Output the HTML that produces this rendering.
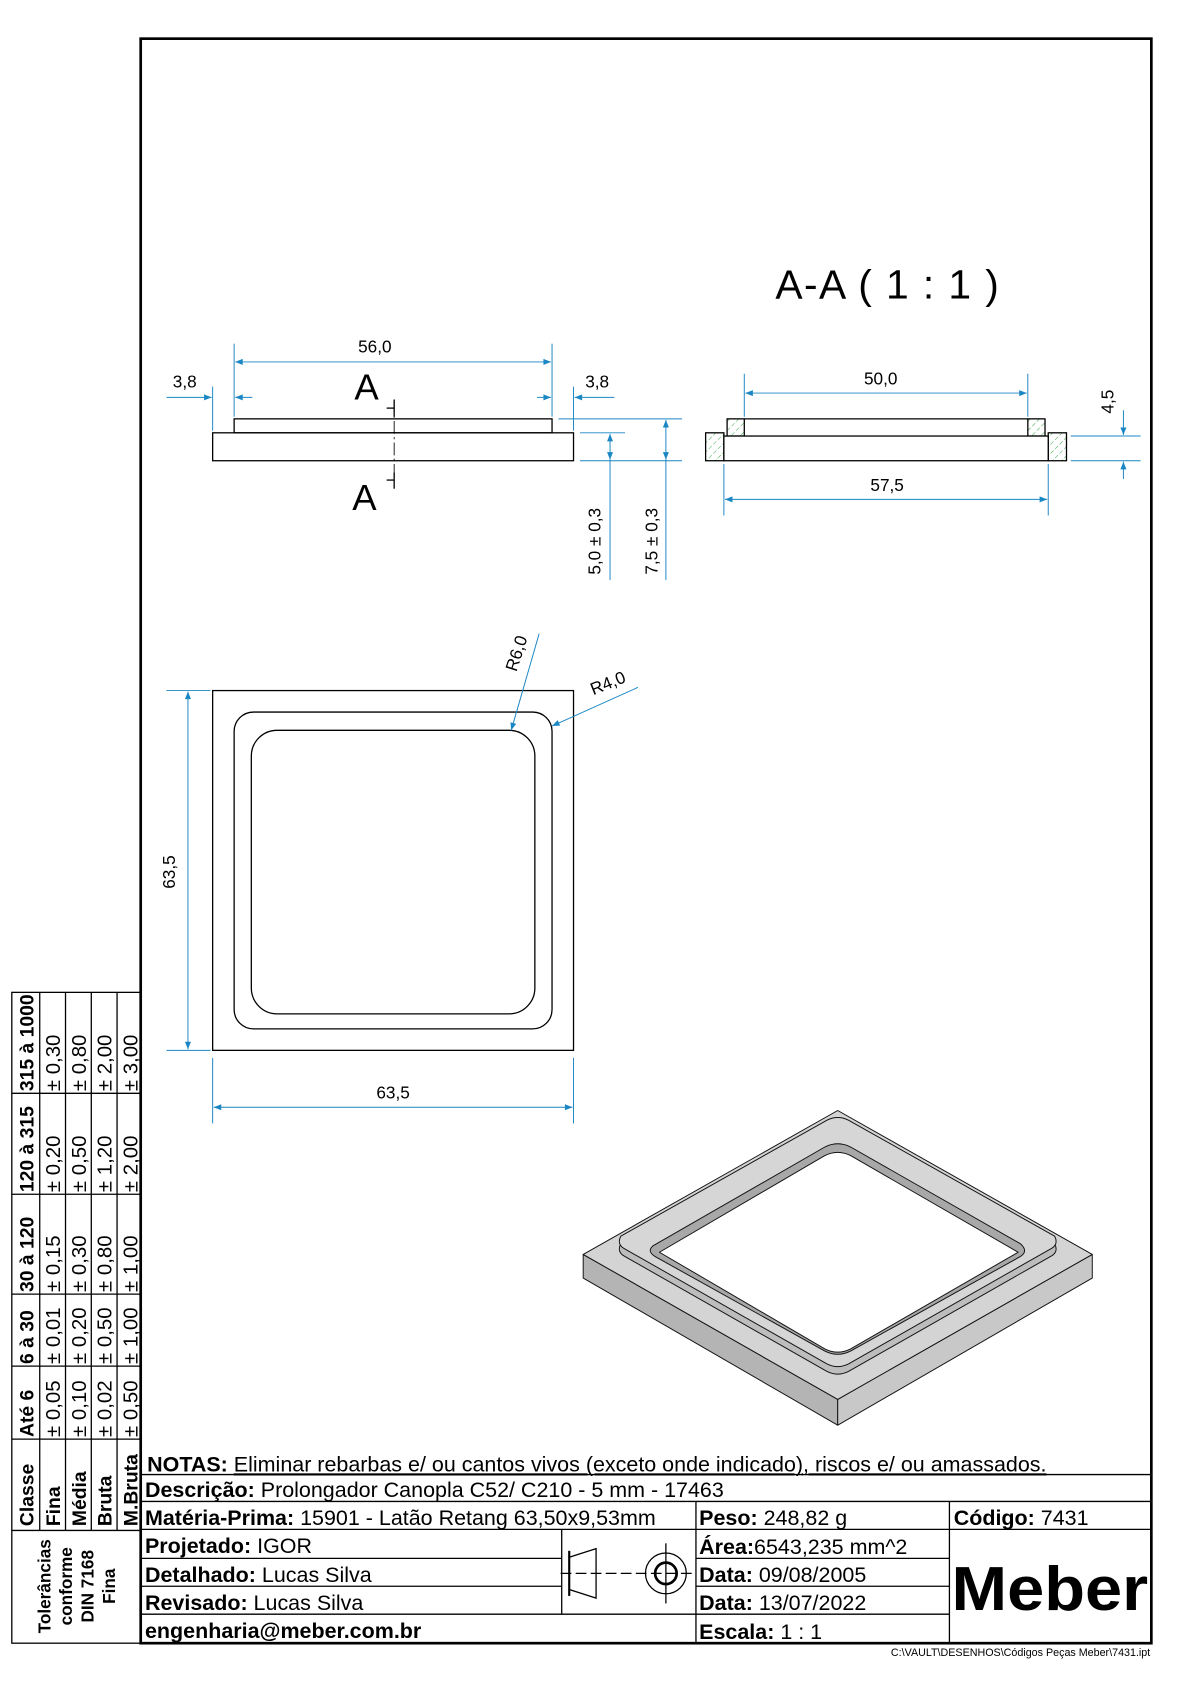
<!DOCTYPE html>
<html><head><meta charset="utf-8"><style>
html,body{margin:0;padding:0;background:#fff}
svg{display:block}
text{font-family:"Liberation Sans",Arial,sans-serif}
</style></head><body>
<svg width="1190" height="1684" viewBox="0 0 1108 1568" preserveAspectRatio="none" xmlns="http://www.w3.org/2000/svg">
<defs>
<marker id="ar" viewBox="0 0 10 10" refX="10" refY="5" markerWidth="9" markerHeight="7" orient="auto-start-reverse" markerUnits="userSpaceOnUse"><path d="M0,1 L10,5 L0,9 z" fill="#1a86c4"/></marker>
<pattern id="h" width="6" height="6" patternUnits="userSpaceOnUse" patternTransform="rotate(45)"><line x1="0" y1="0" x2="0" y2="6" stroke="#1a9a30" stroke-width="0.8" stroke-dasharray="3,2"/></pattern>
</defs>
<rect x="131" y="36" width="941" height="1494" fill="none" stroke="#000" stroke-width="2.5"/>

<text x="722" y="278" font-size="38" textLength="208" lengthAdjust="spacing">A-A ( 1 : 1 )</text>

<!-- front view -->
<g stroke="#000" stroke-width="1.2" fill="none">
<rect x="218" y="390" width="296" height="13"/>
<rect x="198" y="403" width="336" height="26"/>
<line x1="367" y1="372" x2="367" y2="455" stroke-dasharray="12,3,2,3" stroke-width="0.8"/>
<line x1="367" y1="372" x2="367" y2="388"/><line x1="360" y1="380" x2="367" y2="380"/>
<line x1="367" y1="440" x2="367" y2="455"/><line x1="360" y1="447" x2="367" y2="447"/>
</g>
<text x="330" y="372" font-size="34">A</text>
<text x="328" y="475" font-size="34">A</text>

<g stroke="#1a86c4" stroke-width="0.9" fill="none">
<line x1="218" y1="320" x2="218" y2="388"/><line x1="514" y1="320" x2="514" y2="388"/>
<line x1="219" y1="337" x2="513" y2="337" marker-start="url(#ar)" marker-end="url(#ar)"/>
<line x1="198" y1="360" x2="198" y2="401"/>
<line x1="155" y1="370" x2="197" y2="370" marker-end="url(#ar)"/>
<line x1="235" y1="370" x2="219" y2="370" marker-end="url(#ar)"/>
<line x1="534" y1="360" x2="534" y2="401"/>
<line x1="500" y1="370" x2="513" y2="370" marker-end="url(#ar)"/>
<line x1="572" y1="370" x2="535" y2="370" marker-end="url(#ar)"/>
<line x1="540" y1="403" x2="582" y2="403"/><line x1="540" y1="429" x2="635" y2="429"/>
<line x1="520" y1="390" x2="635" y2="390"/>
<line x1="568" y1="404" x2="568" y2="428" marker-start="url(#ar)" marker-end="url(#ar)"/>
<line x1="568" y1="428" x2="568" y2="540"/>
<line x1="620" y1="391" x2="620" y2="428" marker-start="url(#ar)" marker-end="url(#ar)"/>
<line x1="620" y1="428" x2="620" y2="540"/>
</g>
<text x="349" y="328" font-size="16" text-anchor="middle">56,0</text>
<text x="172" y="361" font-size="16" text-anchor="middle">3,8</text>
<text x="556" y="361" font-size="16" text-anchor="middle">3,8</text>
<text transform="translate(559,504) rotate(-90)" font-size="16" text-anchor="middle">5,0 ± 0,3</text>
<text transform="translate(612,504) rotate(-90)" font-size="16" text-anchor="middle">7,5 ± 0,3</text>

<!-- section view -->
<g stroke="#000" stroke-width="1.2">
<rect x="677" y="390" width="16" height="16" fill="url(#h)"/>
<rect x="957" y="390" width="16" height="16" fill="url(#h)"/>
<rect x="657" y="403" width="17" height="26" fill="url(#h)"/>
<rect x="976" y="403" width="17" height="26" fill="url(#h)"/>
<line x1="693" y1="390" x2="957" y2="390"/>
<rect x="674" y="406" width="302" height="23" fill="#fff"/>
</g>
<g stroke="#1a86c4" stroke-width="0.9" fill="none">
<line x1="693" y1="348" x2="693" y2="388"/><line x1="957" y1="348" x2="957" y2="388"/>
<line x1="694" y1="366" x2="956" y2="366" marker-start="url(#ar)" marker-end="url(#ar)"/>
<line x1="674" y1="432" x2="674" y2="480"/><line x1="976" y1="432" x2="976" y2="480"/>
<line x1="675" y1="465" x2="975" y2="465" marker-start="url(#ar)" marker-end="url(#ar)"/>
<line x1="997" y1="406" x2="1062" y2="406"/><line x1="997" y1="429" x2="1062" y2="429"/>
<line x1="1046" y1="382" x2="1046" y2="405" marker-end="url(#ar)"/>
<line x1="1046" y1="446" x2="1046" y2="430" marker-end="url(#ar)"/>
</g>
<text x="820" y="358" font-size="16" text-anchor="middle">50,0</text>
<text x="826" y="457" font-size="16" text-anchor="middle">57,5</text>
<text transform="translate(1037,374) rotate(-90)" font-size="16" text-anchor="middle">4,5</text>

<!-- top view -->
<g stroke="#000" stroke-width="1.2" fill="none">
<rect x="198" y="643" width="336" height="335"/>
<rect x="218" y="663" width="296" height="295" rx="18"/>
<rect x="234" y="680" width="264" height="264" rx="24"/>
</g>
<g stroke="#1a86c4" stroke-width="0.9" fill="none">
<line x1="155" y1="643" x2="196" y2="643"/><line x1="155" y1="978" x2="196" y2="978"/>
<line x1="175" y1="644" x2="175" y2="977" marker-start="url(#ar)" marker-end="url(#ar)"/>
<line x1="198" y1="985" x2="198" y2="1046"/><line x1="534" y1="985" x2="534" y2="1046"/>
<line x1="199" y1="1031" x2="533" y2="1031" marker-start="url(#ar)" marker-end="url(#ar)"/>
<line x1="502" y1="590" x2="476" y2="680" marker-end="url(#ar)"/>
<line x1="594" y1="640" x2="514" y2="676" marker-end="url(#ar)"/>
</g>
<text transform="translate(163,812) rotate(-90)" font-size="16" text-anchor="middle">63,5</text>
<text x="366" y="1023" font-size="16" text-anchor="middle">63,5</text>
<text transform="translate(486,610) rotate(-72)" font-size="16" text-anchor="middle">R6,0</text>
<text transform="translate(568,641) rotate(-22)" font-size="16" text-anchor="middle">R4,0</text>

<!-- iso view -->
<g stroke="#111" stroke-width="0.9" stroke-linejoin="round">
<polygon points="543,1168 780,1303 780,1327 543,1190" fill="#b4b4b4"/>
<polygon points="780,1303 1017,1168 1017,1190 780,1327" fill="#c8c8c8"/>
<polygon points="543,1168 780,1034 1017,1168 780,1303" fill="#d4d4d4"/>
<path d="M578,1158 L770,1050 Q780,1045 790,1050 L982,1158 Q986,1166 978,1170 L790,1277 Q780,1282 770,1277 L582,1170 Q574,1166 578,1158 Z" fill="#bdbdbd"/>
<path d="M578,1151 L770,1043 Q780,1038 790,1043 L982,1151 Q986,1159 978,1163 L790,1270 Q780,1275 770,1270 L582,1163 Q574,1159 578,1151 Z" fill="#d6d6d6"/>
<path d="M608,1160 L768,1068 Q780,1062 792,1068 L950,1158 Q958,1165 950,1170 L792,1258 Q780,1264 768,1258 L610,1170 Q602,1165 608,1160 Z" fill="#a8a8a8"/>
<path d="M614,1166 L768,1076 Q780,1070 792,1076 L948,1166 L792,1256 Q780,1262 768,1256 Z" fill="#fff"/>
</g>

<!-- tolerance table -->
<g stroke="#000" stroke-width="1.2" fill="none">
<rect x="11" y="924" width="120" height="606"/>
<line x1="11" y1="1425" x2="131" y2="1425"/>
<line x1="37" y1="924" x2="37" y2="1425"/><line x1="61" y1="924" x2="61" y2="1425"/>
<line x1="85" y1="924" x2="85" y2="1425"/><line x1="109" y1="924" x2="109" y2="1425"/>
<line x1="11" y1="1018" x2="131" y2="1018"/><line x1="11" y1="1112" x2="131" y2="1112"/>
<line x1="11" y1="1205" x2="131" y2="1205"/><line x1="11" y1="1272" x2="131" y2="1272"/>
<line x1="11" y1="1340" x2="131" y2="1340"/>
</g>
<g font-size="18" font-weight="bold">
<text transform="translate(31,1421) rotate(-90)">Classe</text>
<text transform="translate(56,1421) rotate(-90)">Fina</text>
<text transform="translate(80,1421) rotate(-90)">Média</text>
<text transform="translate(104,1421) rotate(-90)">Bruta</text>
<text transform="translate(128,1421) rotate(-90)">M.Bruta</text>
<text transform="translate(31,1338) rotate(-90)">Até 6</text>
<text transform="translate(31,1270) rotate(-90)">6 à 30</text>
<text transform="translate(31,1203) rotate(-90)">30 à 120</text>
<text transform="translate(31,1110) rotate(-90)">120 à 315</text>
<text transform="translate(31,1016) rotate(-90)">315 à 1000</text>
</g>
<g font-size="19">
<text transform="translate(56,1338) rotate(-90)">± 0,05</text>
<text transform="translate(80,1338) rotate(-90)">± 0,10</text>
<text transform="translate(104,1338) rotate(-90)">± 0,02</text>
<text transform="translate(128,1338) rotate(-90)">± 0,50</text>
<text transform="translate(56,1270) rotate(-90)">± 0,01</text>
<text transform="translate(80,1270) rotate(-90)">± 0,20</text>
<text transform="translate(104,1270) rotate(-90)">± 0,50</text>
<text transform="translate(128,1270) rotate(-90)">± 1,00</text>
<text transform="translate(56,1203) rotate(-90)">± 0,15</text>
<text transform="translate(80,1203) rotate(-90)">± 0,30</text>
<text transform="translate(104,1203) rotate(-90)">± 0,80</text>
<text transform="translate(128,1203) rotate(-90)">± 1,00</text>
<text transform="translate(56,1110) rotate(-90)">± 0,20</text>
<text transform="translate(80,1110) rotate(-90)">± 0,50</text>
<text transform="translate(104,1110) rotate(-90)">± 1,20</text>
<text transform="translate(128,1110) rotate(-90)">± 2,00</text>
<text transform="translate(56,1016) rotate(-90)">± 0,30</text>
<text transform="translate(80,1016) rotate(-90)">± 0,80</text>
<text transform="translate(104,1016) rotate(-90)">± 2,00</text>
<text transform="translate(128,1016) rotate(-90)">± 3,00</text>
</g>
<g font-size="16" font-weight="bold" text-anchor="middle">
<text transform="translate(47,1477) rotate(-90)">Tolerâncias</text>
<text transform="translate(67,1477) rotate(-90)">conforme</text>
<text transform="translate(87,1477) rotate(-90)">DIN 7168</text>
<text transform="translate(107,1477) rotate(-90)">Fina</text>
</g>

<!-- title block -->
<g stroke="#000" stroke-width="1.2" fill="none">
<line x1="131" y1="1373" x2="1072" y2="1373"/>
<line x1="131" y1="1398" x2="1072" y2="1398"/>
<line x1="131" y1="1424" x2="1072" y2="1424"/>
<line x1="131" y1="1451" x2="523" y2="1451"/>
<line x1="131" y1="1477" x2="523" y2="1477"/>
<line x1="131" y1="1503" x2="648" y2="1503"/>
<line x1="648" y1="1451" x2="884" y2="1451"/>
<line x1="648" y1="1477" x2="884" y2="1477"/>
<line x1="648" y1="1503" x2="884" y2="1503"/>
<line x1="523" y1="1424" x2="523" y2="1503"/>
<line x1="648" y1="1398" x2="648" y2="1530"/>
<line x1="884" y1="1398" x2="884" y2="1530"/>
<path d="M530,1450 L555,1442 L555,1488 L530,1480 Z"/>
<line x1="530" y1="1444" x2="530" y2="1486" stroke-width="2"/>
<line x1="522" y1="1465" x2="648" y2="1465" stroke-dasharray="10,4"/>
<circle cx="620" cy="1465" r="19"/>
<circle cx="620" cy="1465" r="10" stroke-width="2.5"/>
<line x1="620" y1="1437" x2="620" y2="1493"/>
</g>
<g font-size="20">
<text x="137" y="1370"><tspan font-weight="bold">NOTAS:</tspan> <tspan text-decoration="underline">Eliminar rebarbas e/ ou cantos vivos (exceto onde indicado), riscos e/ ou amassados.</tspan></text>
<text x="135" y="1394"><tspan font-weight="bold">Descrição:</tspan> Prolongador Canopla C52/ C210 - 5 mm - 17463</text>
<text x="135" y="1420"><tspan font-weight="bold">Matéria-Prima:</tspan> 15901 - Latão Retang 63,50x9,53mm</text>
<text x="651" y="1420"><tspan font-weight="bold">Peso:</tspan> 248,82 g</text>
<text x="888" y="1420"><tspan font-weight="bold">Código:</tspan> 7431</text>
<text x="135" y="1446"><tspan font-weight="bold">Projetado:</tspan> IGOR</text>
<text x="135" y="1473"><tspan font-weight="bold">Detalhado:</tspan> Lucas Silva</text>
<text x="135" y="1499"><tspan font-weight="bold">Revisado:</tspan> Lucas Silva</text>
<text x="135" y="1525" font-weight="bold">engenharia@meber.com.br</text>
<text x="651" y="1447"><tspan font-weight="bold">Área:</tspan>6543,235 mm^2</text>
<text x="651" y="1473"><tspan font-weight="bold">Data:</tspan> 09/08/2005</text>
<text x="651" y="1499"><tspan font-weight="bold">Data:</tspan> 13/07/2022</text>
<text x="651" y="1526"><tspan font-weight="bold">Escala:</tspan> 1 : 1</text>
</g>
<text x="886" y="1499" font-size="58" font-weight="bold" textLength="183" lengthAdjust="spacingAndGlyphs">Meber</text>
<text x="1071" y="1542" font-size="10" text-anchor="end">C:\VAULT\DESENHOS\Códigos Peças Meber\7431.ipt</text>
</svg>
</body></html>
